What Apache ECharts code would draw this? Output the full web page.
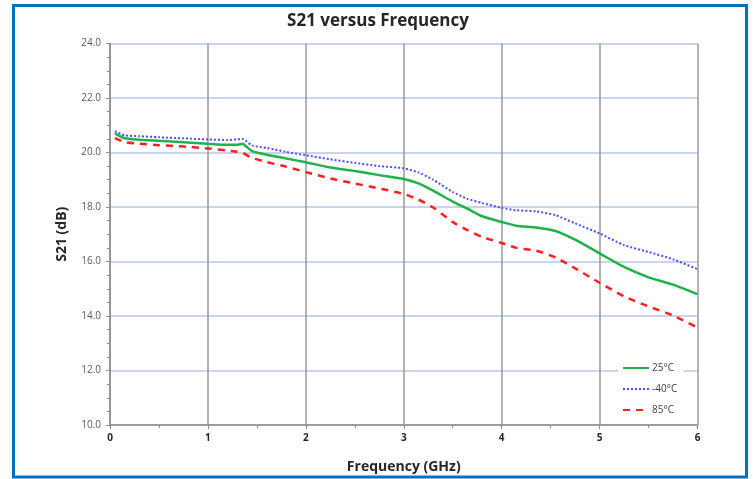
<!DOCTYPE html>
<html>
<head>
<meta charset="utf-8">
<script src="https://cdn.jsdelivr.net/npm/echarts@6/dist/echarts.min.js"></script>
<style>
    html, body {
        margin: 0;
        padding: 0;
        background: #fff;
    }
    #chart {
        width: 753px;
        height: 479px;
    }
</style>
</head>
<body>
<div id="chart"></div>
<script>
// frequency points (GHz)
const freq = [0.05, 0.15, 0.3, 0.5, 0.75, 1.0, 1.2, 1.3, 1.35, 1.45, 1.6, 1.8, 2.0, 2.25, 2.5, 2.75,
    3.0, 3.15, 3.3, 3.5, 3.65, 3.8, 4.0, 4.15, 4.35, 4.55, 4.75, 5.0, 5.25, 5.5, 5.75, 6.0]
// S21 (dB) per temperature
const s21_25 = [20.7, 20.52, 20.47, 20.43, 20.38, 20.32, 20.28, 20.28, 20.32, 20.05, 19.92, 19.78, 19.64, 19.45, 19.32, 19.17,
    19.03, 18.87, 18.6, 18.2, 17.94, 17.66, 17.45, 17.31, 17.25, 17.12, 16.8, 16.3, 15.8, 15.42, 15.15, 14.8]
const s21_m40 = [20.78, 20.63, 20.6, 20.56, 20.52, 20.48, 20.46, 20.48, 20.5, 20.26, 20.17, 20.02, 19.9, 19.75, 19.62, 19.5,
    19.42, 19.27, 19.0, 18.55, 18.3, 18.15, 17.97, 17.88, 17.84, 17.7, 17.4, 17.03, 16.6, 16.35, 16.08, 15.72]
const s21_85 = [20.53, 20.38, 20.32, 20.27, 20.22, 20.15, 20.07, 20.03, 20.0, 19.8, 19.65, 19.48, 19.28, 19.05, 18.86, 18.68,
    18.48, 18.27, 17.98, 17.45, 17.15, 16.9, 16.68, 16.5, 16.4, 16.15, 15.75, 15.22, 14.72, 14.35, 14.02, 13.57]
const seriesNames = ['25°C', '-40°C', '85°C']

const pair = arr => freq.map((f, i) => [f, arr[i]])

const chart = echarts.init(document.getElementById('chart'))
const axisGray = '#8c8c8c'

const option = {
    animation: false,
    backgroundColor: '#fff',
    title: {
        text: 'S21 versus Frequency',
        left: 373,
        textAlign: 'center',
        top: 8,
        textStyle: {
            fontFamily: 'Open Sans',
            fontWeight: 'bold',
            fontSize: 17,
            color: '#262626',
        },
    },
    graphic: [
        {
            type: 'rect',
            z: -1,
            shape: { x: 13.5, y: 5.5, width: 733, height: 471.5 },
            style: { fill: 'none', stroke: '#0070c0', lineWidth: 3 },
        },
    ],
    grid: {
        left: 110,
        right: 55.5,
        top: 43.5,
        bottom: 51,
    },
    legend: {
        orient: 'vertical',
        left: 618,
        top: 359,
        itemWidth: 26,
        itemHeight: 8,
        itemGap: 11,
        padding: [4, 6, 4, 4],
        backgroundColor: '#fff',
        data: seriesNames,
        itemStyle: { opacity: 0 },
        textStyle: {
            fontFamily: 'Open Sans',
            fontSize: 10,
            color: '#404040',
            padding: [0, 0, 0, -2],
        },
    },
    xAxis: {
        type: 'value',
        min: 0,
        max: 6,
        interval: 1,
        name: 'Frequency (GHz)',
        nameLocation: 'middle',
        nameGap: 35,
        nameTextStyle: {
            fontFamily: 'Open Sans',
            fontWeight: 'bold',
            fontSize: 14,
            color: '#262626',
        },
        axisLine: { show: true, lineStyle: { color: axisGray, width: 1.5 } },
        axisTick: { show: true, length: 4, lineStyle: { color: axisGray } },
        minorTick: { show: true, splitNumber: 2, length: 3, lineStyle: { color: axisGray } },
        axisLabel: {
            fontFamily: 'Open Sans',
            fontWeight: 'bold',
            fontSize: 10,
            color: '#262626',
            margin: 8,
        },
        splitLine: { show: true, lineStyle: { color: '#9a9a9a', width: 1.5 } },
    },
    yAxis: {
        type: 'value',
        min: 10,
        max: 24,
        interval: 2,
        name: 'S21 (dB)',
        nameLocation: 'middle',
        nameGap: 41,
        nameTextStyle: {
            fontFamily: 'Open Sans',
            fontWeight: 'bold',
            fontSize: 14,
            color: '#262626',
        },
        axisLine: { show: true, lineStyle: { color: axisGray, width: 1.5 } },
        axisTick: { show: true, length: 4, lineStyle: { color: axisGray } },
        minorTick: { show: true, splitNumber: 4, length: 3, lineStyle: { color: axisGray } },
        axisLabel: {
            fontFamily: 'Open Sans',
            fontSize: 10,
            color: '#595959',
            margin: 9,
            formatter: v => v.toFixed(1),
        },
        splitLine: { show: true, lineStyle: { color: '#b4c7e7', width: 1.5 } },
    },
    series: [
        {
            name: seriesNames[0],
            type: 'line',
            data: pair(s21_25),
            symbol: 'none',
            smooth: 0.2,
            z: 3,
            lineStyle: { color: '#1fb14c', width: 2.5 },
            itemStyle: { color: '#1fb14c' },
        },
        {
            name: seriesNames[1],
            type: 'line',
            data: pair(s21_m40),
            symbol: 'none',
            smooth: 0.2,
            z: 2,
            lineStyle: { color: '#4d4dff', width: 2, type: [2, 2] },
            itemStyle: { color: '#4d4dff' },
        },
        {
            name: seriesNames[2],
            type: 'line',
            data: pair(s21_85),
            symbol: 'none',
            smooth: 0.2,
            z: 2,
            lineStyle: { color: '#ff1f1f', width: 2.5, type: [7, 6] },
            itemStyle: { color: '#ff1f1f' },
        },
    ],
}
option && chart.setOption(option)
</script>
</body>
</html>
